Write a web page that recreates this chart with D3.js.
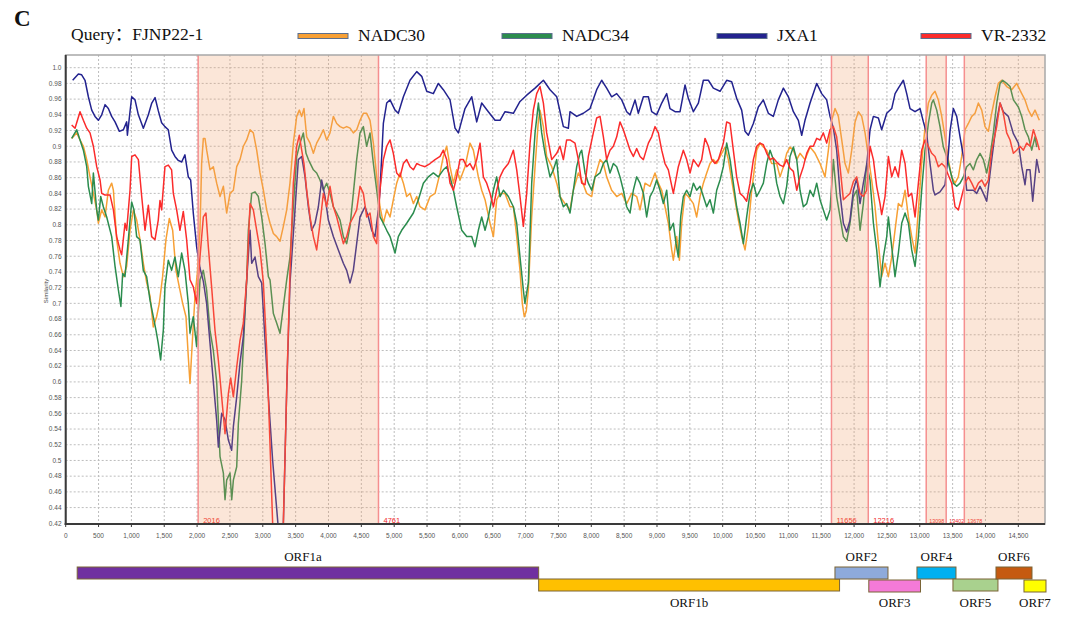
<!DOCTYPE html>
<html><head><meta charset="utf-8">
<script src="https://cdn.jsdelivr.net/npm/d3@7"></script>
<style>html,body{margin:0;padding:0;background:#fff}svg{display:block}</style>
</head><body>
<svg id="chart" width="1080" height="622"></svg>
<script>
// ---------- DATA ----------
const seriesNames = ["NADC30", "NADC34", "JXA1", "VR-2332"];
const seriesColors = ["#f7a035", "#2b8c4e", "#23238f", "#fb2b2b"];

const NADC30 = [[91,.910],[167,.917],[218,.908],[269,.900],[320,.883],[370,.861],[421,.840],[472,.819],[497,.802],[548,.819],[599,.810],[649,.844],[700,.853],[726,.844],[776,.781],[827,.751],[878,.734],[928,.747],[979,.793],[1030,.819],[1081,.806],[1131,.781],[1182,.751],[1233,.726],[1284,.709],[1333,.670],[1384,.683],[1425,.700],[1475,.734],[1526,.781],[1577,.808],[1628,.793],[1678,.742],[1729,.721],[1780,.700],[1831,.683],[1866,.632],[1892,.598],[1932,.658],[1968,.709],[2003,.738],[2044,.793],[2069,.878],[2095,.910],[2120,.910],[2146,.895],[2197,.870],[2247,.874],[2298,.853],[2349,.836],[2400,.849],[2450,.815],[2501,.840],[2552,.844],[2603,.874],[2653,.883],[2704,.900],[2755,.908],[2806,.921],[2856,.917],[2907,.895],[2958,.866],[3009,.844],[3059,.819],[3110,.802],[3161,.789],[3211,.785],[3262,.779],[3313,.798],[3364,.819],[3414,.853],[3465,.904],[3516,.938],[3556,.946],[3592,.938],[3627,.948],[3668,.912],[3719,.904],[3770,.891],[3820,.904],[3871,.912],[3922,.921],[3973,.908],[4023,.917],[4074,.938],[4125,.929],[4176,.925],[4226,.923],[4277,.925],[4328,.923],[4378,.917],[4429,.921],[4480,.933],[4531,.942],[4581,.942],[4632,.933],[4683,.904],[4734,.861],[4784,.823],[4835,.802],[4886,.819],[4937,.810],[4987,.832],[5038,.853],[5089,.866],[5140,.853],[5190,.836],[5241,.840],[5292,.827],[5343,.836],[5393,.823],[5469,.819],[5546,.836],[5622,.840],[5698,.866],[5748,.887],[5799,.900],[5850,.874],[5901,.853],[5951,.870],[6002,.857],[6078,.874],[6154,.904],[6205,.895],[6281,.861],[6332,.844],[6383,.832],[6459,.802],[6510,.785],[6560,.832],[6611,.840],[6687,.840],[6763,.823],[6814,.823],[6865,.785],[6915,.742],[6950,.700],[6980,.683],[7010,.690],[7042,.717],[7093,.810],[7144,.874],[7195,.933],[7220,.946],[7271,.925],[7321,.887],[7398,.874],[7474,.853],[7524,.836],[7600,.827],[7676,.819],[7727,.844],[7803,.866],[7854,.857],[7930,.840],[8006,.836],[8057,.861],[8133,.883],[8184,.878],[8234,.861],[8310,.844],[8387,.836],[8463,.840],[8539,.827],[8615,.840],[8691,.836],[8742,.819],[8818,.853],[8894,.849],[8970,.866],[9021,.853],[9072,.844],[9122,.823],[9173,.802],[9224,.768],[9249,.755],[9300,.785],[9341,.755],[9376,.802],[9427,.840],[9477,.836],[9554,.827],[9604,.810],[9655,.836],[9706,.853],[9757,.866],[9807,.878],[9858,.883],[9909,.878],[9985,.891],[10036,.899],[10086,.883],[10162,.844],[10239,.806],[10289,.785],[10340,.768],[10391,.798],[10442,.844],[10518,.895],[10568,.904],[10619,.899],[10670,.895],[10746,.878],[10822,.878],[10873,.861],[10924,.874],[10974,.891],[11025,.899],[11076,.895],[11127,.883],[11177,.891],[11253,.883],[11330,.899],[11406,.891],[11482,.878],[11558,.861],[11609,.895],[11659,.933],[11710,.948],[11761,.938],[11812,.908],[11862,.878],[11913,.866],[11964,.895],[12015,.931],[12065,.944],[12116,.938],[12167,.917],[12217,.887],[12268,.857],[12319,.823],[12370,.776],[12420,.734],[12471,.751],[12522,.734],[12573,.759],[12623,.793],[12674,.827],[12725,.823],[12776,.844],[12827,.810],[12877,.785],[12928,.764],[12979,.819],[13029,.878],[13080,.925],[13131,.955],[13182,.965],[13232,.970],[13283,.959],[13334,.938],[13384,.912],[13435,.883],[13486,.861],[13537,.853],[13587,.861],[13638,.887],[13689,.921],[13740,.929],[13791,.938],[13841,.942],[13892,.955],[13943,.946],[13993,.925],[14044,.919],[14095,.942],[14146,.963],[14196,.980],[14247,.984],[14323,.976],[14399,.972],[14475,.980],[14552,.967],[14602,.959],[14653,.946],[14704,.938],[14754,.946],[14820,.933]];

const NADC34 = [[91,.910],[167,.921],[218,.908],[269,.895],[320,.874],[345,.849],[396,.827],[421,.866],[472,.819],[497,.806],[533,.836],[573,.823],[624,.810],[700,.785],[751,.747],[802,.717],[840,.696],[867,.738],[902,.734],[953,.781],[1004,.829],[1039,.819],[1080,.785],[1130,.781],[1181,.742],[1232,.734],[1283,.704],[1333,.683],[1374,.666],[1409,.649],[1445,.628],[1486,.666],[1511,.721],[1562,.755],[1612,.742],[1663,.759],[1714,.734],[1765,.764],[1815,.742],[1866,.700],[1892,.662],[1942,.683],[1993,.645],[2044,.730],[2095,.742],[2145,.717],[2196,.666],[2247,.640],[2298,.600],[2349,.505],[2400,.484],[2425,.450],[2450,.475],[2501,.484],[2527,.450],[2552,.475],[2603,.492],[2628,.547],[2679,.602],[2729,.687],[2755,.730],[2780,.793],[2831,.840],[2882,.842],[2932,.836],[2983,.810],[3034,.776],[3085,.734],[3110,.730],[3161,.687],[3211,.675],[3262,.662],[3313,.696],[3364,.730],[3414,.759],[3465,.823],[3516,.887],[3567,.904],[3617,.917],[3658,.891],[3694,.883],[3770,.870],[3820,.866],[3871,.857],[3922,.844],[3973,.853],[4023,.840],[4074,.823],[4125,.815],[4176,.806],[4226,.785],[4277,.776],[4328,.798],[4378,.840],[4429,.883],[4480,.917],[4531,.925],[4581,.900],[4632,.917],[4683,.878],[4734,.844],[4784,.810],[4835,.802],[4886,.793],[4937,.785],[5013,.764],[5063,.785],[5114,.793],[5190,.802],[5292,.815],[5368,.832],[5444,.853],[5520,.861],[5596,.866],[5672,.861],[5748,.870],[5799,.874],[5850,.861],[5901,.844],[5951,.823],[6028,.793],[6104,.785],[6180,.785],[6230,.772],[6281,.793],[6332,.810],[6383,.793],[6434,.810],[6510,.844],[6560,.861],[6611,.836],[6662,.844],[6738,.836],[6814,.823],[6865,.802],[6915,.759],[6966,.717],[6990,.700],[7042,.726],[7093,.853],[7144,.917],[7195,.955],[7245,.917],[7296,.891],[7372,.861],[7423,.870],[7474,.883],[7524,.836],[7575,.823],[7625,.827],[7676,.815],[7727,.844],[7778,.874],[7828,.891],[7854,.895],[7905,.866],[7955,.853],[8006,.844],[8057,.861],[8133,.866],[8184,.878],[8234,.883],[8285,.866],[8336,.878],[8387,.874],[8437,.861],[8488,.844],[8539,.823],[8590,.815],[8640,.844],[8691,.861],[8742,.853],[8793,.840],[8843,.810],[8894,.836],[8945,.844],[8995,.857],[9046,.844],[9097,.827],[9148,.844],[9198,.793],[9249,.802],[9290,.776],[9325,.759],[9361,.810],[9401,.836],[9452,.844],[9503,.836],[9554,.853],[9604,.844],[9655,.849],[9706,.836],[9757,.823],[9807,.832],[9858,.815],[9909,.844],[9960,.857],[10010,.874],[10061,.904],[10112,.883],[10162,.853],[10213,.823],[10264,.802],[10315,.776],[10365,.810],[10416,.840],[10467,.853],[10518,.836],[10568,.844],[10619,.853],[10670,.878],[10721,.895],[10771,.883],[10822,.853],[10873,.836],[10924,.827],[10974,.849],[11025,.887],[11076,.899],[11127,.883],[11177,.844],[11228,.823],[11279,.827],[11330,.844],[11380,.836],[11431,.853],[11482,.832],[11532,.819],[11583,.806],[11634,.819],[11685,.883],[11735,.836],[11786,.810],[11837,.785],[11888,.779],[11938,.802],[11989,.836],[12040,.844],[12091,.793],[12141,.827],[12192,.878],[12243,.857],[12294,.802],[12344,.768],[12395,.721],[12446,.759],[12497,.785],[12522,.810],[12573,.772],[12623,.734],[12674,.764],[12725,.802],[12776,.815],[12827,.802],[12877,.768],[12928,.747],[12979,.785],[13029,.844],[13080,.895],[13131,.929],[13182,.955],[13207,.959],[13258,.946],[13308,.925],[13359,.899],[13410,.887],[13460,.870],[13511,.853],[13562,.849],[13613,.853],[13664,.861],[13714,.874],[13765,.878],[13816,.870],[13867,.883],[13917,.891],[13968,.883],[14019,.866],[14069,.887],[14120,.917],[14171,.955],[14222,.980],[14262,.984],[14323,.980],[14374,.976],[14425,.959],[14501,.950],[14552,.938],[14602,.921],[14653,.912],[14704,.895],[14754,.912],[14780,.899]];

const JXA1 = [[106,.984],[193,.992],[243,.991],[294,.984],[345,.963],[396,.946],[446,.938],[497,.933],[548,.940],[599,.953],[649,.948],[700,.938],[751,.931],[817,.919],[878,.921],[928,.931],[939,.914],[979,.944],[1005,.963],[1055,.959],[1106,.940],[1182,.923],[1258,.940],[1310,.955],[1360,.962],[1410,.945],[1460,.930],[1510,.925],[1562,.921],[1613,.895],[1663,.887],[1714,.882],[1765,.880],[1815,.889],[1866,.861],[1902,.857],[1942,.815],[1993,.772],[2044,.745],[2095,.728],[2145,.700],[2196,.650],[2247,.600],[2298,.551],[2324,.517],[2374,.560],[2425,.552],[2476,.526],[2526,.513],[2552,.543],[2603,.581],[2653,.624],[2704,.658],[2755,.730],[2806,.793],[2831,.751],[2882,.759],[2932,.734],[2983,.726],[3085,.581],[3150,.500],[3210,.440],[3250,.400],[3265,.360],[3290,.360],[3313,.420],[3364,.590],[3414,.726],[3490,.819],[3541,.883],[3592,.887],[3643,.861],[3693,.823],[3744,.793],[3795,.802],[3846,.823],[3896,.857],[3947,.836],[3998,.806],[4074,.785],[4150,.768],[4226,.751],[4277,.742],[4328,.726],[4378,.742],[4429,.776],[4480,.810],[4556,.823],[4607,.810],[4658,.793],[4708,.785],[4759,.819],[4784,.844],[4835,.929],[4886,.955],[4937,.959],[5013,.946],[5063,.942],[5140,.963],[5241,.984],[5343,.995],[5419,.989],[5495,.970],[5596,.967],[5672,.980],[5748,.972],[5850,.959],[5926,.923],[5977,.917],[6078,.948],[6180,.963],[6256,.931],[6332,.955],[6433,.944],[6535,.933],[6611,.933],[6687,.944],[6814,.942],[6915,.957],[7017,.965],[7144,.974],[7271,.984],[7372,.972],[7474,.963],[7575,.925],[7651,.923],[7676,.944],[7778,.938],[7879,.942],[7981,.948],[8082,.972],[8158,.984],[8234,.974],[8310,.963],[8387,.967],[8463,.959],[8539,.944],[8590,.940],[8666,.959],[8716,.942],[8793,.963],[8869,.963],[8919,.944],[8995,.940],[9072,.955],[9148,.967],[9198,.948],[9275,.944],[9351,.944],[9427,.978],[9477,.961],[9554,.944],[9630,.955],[9706,.984],[9782,.984],[9858,.974],[9960,.970],[10061,.984],[10137,.982],[10213,.961],[10289,.946],[10340,.919],[10391,.914],[10467,.929],[10543,.950],[10619,.959],[10695,.942],[10771,.938],[10847,.959],[10924,.974],[11000,.963],[11076,.944],[11152,.933],[11203,.914],[11253,.933],[11330,.955],[11431,.980],[11507,.967],[11583,.959],[11634,.938],[11685,.923],[11735,.895],[11786,.840],[11837,.802],[11888,.791],[11938,.806],[11989,.844],[12040,.859],[12091,.827],[12141,.853],[12192,.876],[12243,.921],[12294,.938],[12370,.936],[12420,.921],[12497,.942],[12573,.948],[12624,.967],[12674,.974],[12750,.984],[12801,.967],[12852,.948],[12928,.944],[13004,.948],[13055,.931],[13105,.916],[13156,.878],[13207,.844],[13232,.838],[13308,.842],[13384,.851],[13435,.891],[13460,.919],[13511,.948],[13562,.938],[13613,.912],[13664,.887],[13714,.844],[13816,.844],[13867,.840],[13917,.849],[13968,.840],[14019,.830],[14095,.883],[14171,.933],[14222,.955],[14272,.944],[14348,.938],[14425,.916],[14501,.904],[14552,.874],[14602,.851],[14628,.870],[14678,.870],[14719,.830],[14780,.883],[14820,.866]];

const VR2332 = [[91,.927],[142,.923],[218,.944],[269,.933],[320,.923],[370,.917],[421,.900],[472,.874],[523,.857],[548,.840],[599,.838],[675,.838],[726,.819],[776,.785],[827,.768],[852,.762],[903,.802],[928,.793],[979,.844],[1005,.887],[1055,.889],[1106,.883],[1157,.836],[1207,.793],[1258,.825],[1308,.785],[1359,.781],[1409,.806],[1435,.831],[1460,.819],[1511,.874],[1562,.876],[1612,.870],[1638,.840],[1689,.819],[1739,.793],[1790,.817],[1841,.781],[1892,.730],[1942,.721],[1993,.700],[2044,.759],[2095,.810],[2135,.815],[2171,.772],[2221,.721],[2272,.666],[2323,.628],[2374,.581],[2425,.534],[2476,.585],[2511,.605],[2552,.581],[2603,.619],[2653,.653],[2704,.675],[2755,.730],[2806,.827],[2856,.819],[2907,.793],[2958,.768],[3009,.726],[3060,.640],[3110,.520],[3150,.420],[3170,.360],[3280,.360],[3313,.420],[3364,.590],[3414,.740],[3465,.853],[3516,.900],[3556,.914],[3592,.895],[3627,.878],[3668,.844],[3719,.810],[3770,.785],[3820,.768],[3871,.802],[3922,.840],[3973,.823],[4023,.849],[4074,.823],[4125,.810],[4176,.793],[4226,.776],[4277,.785],[4328,.802],[4378,.810],[4429,.819],[4480,.849],[4531,.840],[4581,.810],[4632,.815],[4683,.785],[4734,.776],[4784,.844],[4835,.883],[4886,.900],[4937,.908],[4987,.891],[5038,.866],[5089,.861],[5140,.878],[5190,.883],[5241,.874],[5292,.870],[5343,.878],[5393,.876],[5469,.874],[5546,.878],[5622,.883],[5698,.887],[5748,.895],[5799,.883],[5850,.853],[5901,.844],[5951,.861],[6002,.883],[6053,.883],[6104,.874],[6154,.878],[6205,.870],[6256,.883],[6307,.904],[6357,.861],[6408,.853],[6459,.840],[6510,.823],[6560,.844],[6611,.861],[6662,.870],[6738,.878],[6814,.895],[6865,.870],[6915,.836],[6966,.798],[7017,.840],[7068,.904],[7118,.946],[7169,.967],[7220,.976],[7271,.955],[7321,.917],[7398,.883],[7474,.891],[7524,.900],[7575,.883],[7625,.908],[7676,.908],[7752,.904],[7803,.883],[7854,.853],[7905,.851],[7955,.887],[8031,.917],[8082,.936],[8133,.938],[8184,.912],[8234,.883],[8285,.895],[8336,.900],[8387,.912],[8437,.931],[8488,.921],[8539,.908],[8590,.895],[8640,.887],[8691,.897],[8742,.887],[8793,.883],[8869,.904],[8919,.912],[8970,.925],[9021,.917],[9072,.895],[9122,.878],[9173,.870],[9249,.840],[9325,.874],[9401,.895],[9452,.883],[9503,.866],[9554,.883],[9630,.874],[9680,.883],[9731,.910],[9782,.900],[9833,.883],[9883,.878],[9934,.883],[10010,.904],[10061,.931],[10112,.929],[10162,.895],[10213,.861],[10264,.840],[10315,.836],[10365,.830],[10416,.853],[10467,.883],[10518,.900],[10568,.904],[10619,.902],[10670,.891],[10721,.883],[10771,.885],[10822,.880],[10873,.876],[10924,.874],[10974,.883],[11025,.872],[11076,.868],[11127,.844],[11177,.861],[11228,.874],[11279,.891],[11330,.900],[11380,.900],[11431,.910],[11482,.908],[11532,.917],[11583,.904],[11634,.921],[11685,.925],[11735,.912],[11786,.874],[11837,.832],[11888,.836],[11938,.840],[11989,.855],[12040,.861],[12091,.840],[12141,.836],[12192,.844],[12243,.900],[12294,.883],[12344,.849],[12395,.827],[12420,.813],[12471,.836],[12522,.887],[12573,.861],[12623,.874],[12674,.861],[12725,.895],[12776,.878],[12827,.836],[12877,.840],[12928,.810],[12979,.853],[13029,.895],[13080,.908],[13131,.900],[13182,.891],[13232,.887],[13283,.874],[13334,.878],[13384,.874],[13435,.863],[13486,.853],[13537,.823],[13587,.819],[13638,.836],[13689,.853],[13740,.861],[13791,.853],[13841,.844],[13892,.853],[13943,.857],[13993,.849],[14044,.857],[14095,.895],[14171,.925],[14222,.955],[14272,.942],[14323,.917],[14374,.908],[14425,.891],[14475,.895],[14526,.900],[14577,.895],[14628,.904],[14678,.900],[14729,.921],[14780,.908],[14820,.895]];

const seriesData = [NADC30, NADC34, JXA1, VR2332];

const breakpoints = [2016, 4761, 11656, 12216, 13098, 13402, 13678];
const recombRegions = [[2016, 4761], [11656, 12216], [13098, 13402], [13678, 14906]];

const xTicks = [0,500,1000,1500,2000,2500,3000,3500,4000,4500,5000,5500,6000,6500,7000,7500,8000,8500,9000,9500,10000,10500,11000,11500,12000,12500,13000,13500,14000,14500];
const yTicks = [0.42,0.44,0.46,0.48,0.5,0.52,0.54,0.56,0.58,0.6,0.62,0.64,0.66,0.68,0.7,0.72,0.74,0.76,0.78,0.8,0.82,0.84,0.86,0.88,0.9,0.92,0.94,0.96,0.98,1.0];

const orfNames = ["ORF1a","ORF1b","ORF2","ORF3","ORF4","ORF5","ORF6","ORF7"];
const orfStart = [175, 7199, 11709, 12224, 12957, 13505, 14160, 14586];
const orfEnd   = [7199, 11779, 12516, 13011, 13551, 14190, 14708, 14921];
const orfRow   = [0, 1, 0, 1, 0, 1, 0, 1];
const orfColors = ["#7030a0","#ffc000","#8eaadb","#f47ad8","#00b0f0","#a9d18e","#c55a11","#ffff00"];

// ---------- CHART ----------
const svg = d3.select("#chart");
const L = 65.7, R = 1045, T = 55, B = 524;
const x = d3.scaleLinear().domain([0, 14906]).range([L, R]);
const y = d3.scaleLinear().domain([0.42, 1.0]).range([523.3, 67.7]);

svg.append("rect").attr("width",1080).attr("height",622).attr("fill","#fff");

// grid
const grid = svg.append("g");
grid.selectAll(".gy").data(yTicks.slice(1)).enter().append("line")
  .attr("x1", L).attr("x2", R).attr("y1", d=>y(d)).attr("y2", d=>y(d))
  .attr("stroke", "#bdbdbd").attr("stroke-width", 1).attr("stroke-dasharray", "2,2");
grid.selectAll(".gx").data(xTicks.slice(1)).enter().append("line")
  .attr("x1", d=>x(d)).attr("x2", d=>x(d)).attr("y1", T).attr("y2", B)
  .attr("stroke", "#bdbdbd").attr("stroke-width", 1).attr("stroke-dasharray", "2,2");

// clip
svg.append("defs").append("clipPath").attr("id","plotclip")
  .append("rect").attr("x", L).attr("y", T).attr("width", R-L).attr("height", B-T);

const line = d3.line().x(d=>x(d[0])).y(d=>y(d[1]));
const lines = svg.append("g").attr("clip-path","url(#plotclip)");
seriesData.forEach((s,i)=>{
  lines.append("path").datum(s).attr("d", line)
    .attr("fill","none").attr("stroke", seriesColors[i])
    .attr("stroke-width", 1.5).attr("stroke-linejoin","round");
});

// breakpoint labels (the last three sit very close together, so they are set smaller)
svg.append("g").selectAll("text").data(breakpoints).enter().append("text")
  .attr("x", d=>x(d)+(d>13000 ? 3 : 5)).attr("y", 522.5)
  .attr("font-family","Liberation Sans, Arial, sans-serif")
  .attr("font-size", d=> d>13000 ? 5.4 : 7.5)
  .attr("fill", "#f02a2a").text(d=>d);

// shaded recombination regions (drawn over lines)
svg.append("g").selectAll("rect").data(recombRegions).enter().append("rect")
  .attr("x", d=>x(d[0])).attr("width", d=>x(d[1])-x(d[0]))
  .attr("y", T).attr("height", B-T)
  .attr("fill", "#ef9b63").attr("fill-opacity", 0.25);

// breakpoint lines
svg.append("g").selectAll("line").data(breakpoints).enter().append("line")
  .attr("x1", d=>x(d)).attr("x2", d=>x(d)).attr("y1", T).attr("y2", B)
  .attr("stroke", "#f58f8f").attr("stroke-width", 1.5);

// frame
svg.append("rect").attr("x", L).attr("y", T).attr("width", R-L).attr("height", B-T)
  .attr("fill","none").attr("stroke","#a8a8a8").attr("stroke-width",1.5);
svg.append("line").attr("x1", L).attr("x2", L).attr("y1", T).attr("y2", B+1)
  .attr("stroke","#3a3a3a").attr("stroke-width",2);
svg.append("line").attr("x1", L-1).attr("x2", R).attr("y1", B).attr("y2", B)
  .attr("stroke","#3a3a3a").attr("stroke-width",2);

// axis ticks and labels
const axFont = "Liberation Sans, Arial, sans-serif";
const xa = svg.append("g");
xa.selectAll("line").data(xTicks).enter().append("line")
  .attr("x1", d=>x(d)).attr("x2", d=>x(d)).attr("y1", B).attr("y2", B+3)
  .attr("stroke","#3a3a3a").attr("stroke-width",1);
xa.selectAll("text").data(xTicks).enter().append("text")
  .attr("x", d=>x(d)).attr("y", 537.5).attr("text-anchor","middle")
  .attr("font-family", axFont).attr("font-size", 6.5).attr("fill","#555")
  .text(d=>d3.format(",")(d));
const ya = svg.append("g");
ya.selectAll("text").data(yTicks).enter().append("text")
  .attr("x", 61.5).attr("y", d=>y(d)+2.3).attr("text-anchor","end")
  .attr("font-family", axFont).attr("font-size", 6.5).attr("fill","#555")
  .text(d=> d===1 ? "1.0" : String(+d.toFixed(2)));
svg.append("text").attr("transform","translate(48,291) rotate(-90)")
  .attr("text-anchor","middle").attr("font-family", axFont).attr("font-size", 6)
  .attr("fill","#444").text("Similarity");

// title / legend
const serif = "Liberation Serif, Times New Roman, serif";
svg.append("text").attr("x", 14).attr("y", 26).attr("font-family", serif)
  .attr("font-weight","bold").attr("font-size", 23).attr("fill","#111").text("C");
svg.append("text").attr("x", 71).attr("y", 40).attr("font-family", serif + ", Noto Sans CJK SC")
  .attr("font-size", 17.5).attr("fill","#111").text("Query：FJNP22-1");
const legX = [298, 502, 717, 921];
const lg = svg.append("g");
seriesNames.forEach((n,i)=>{
  lg.append("rect").attr("x", legX[i]).attr("y", 33.5).attr("width", 50).attr("height", 5)
    .attr("fill", seriesColors[i]).attr("stroke","#5b6f8e").attr("stroke-width",1);
  lg.append("text").attr("x", legX[i]+60).attr("y", 40.5).attr("font-family", serif)
    .attr("font-size", 17.5).attr("fill","#111").text(n);
});

// ORF map
const rowY = [567, 579], rowH = 12;
const orf = svg.append("g");
orfNames.forEach((n,i)=>{
  const x0 = x(orfStart[i]), x1 = x(orfEnd[i]);
  const yy = rowY[orfRow[i]] + (i===3||i===7 ? 1 : 0);
  orf.append("rect").attr("x", x0).attr("y", yy).attr("width", x1-x0).attr("height", rowH)
    .attr("fill", orfColors[i]).attr("stroke","#7a6436").attr("stroke-width",1);
  const cx = (x0+x1)/2 + (i===0 ? -5 : 0);
  const ty = orfRow[i]===0 ? 561 : 607;
  orf.append("text").attr("x", cx).attr("y", ty).attr("text-anchor","middle")
    .attr("font-family", serif).attr("font-size", 13).attr("fill","#111")
    .text(n);
});
</script>
</body></html>
